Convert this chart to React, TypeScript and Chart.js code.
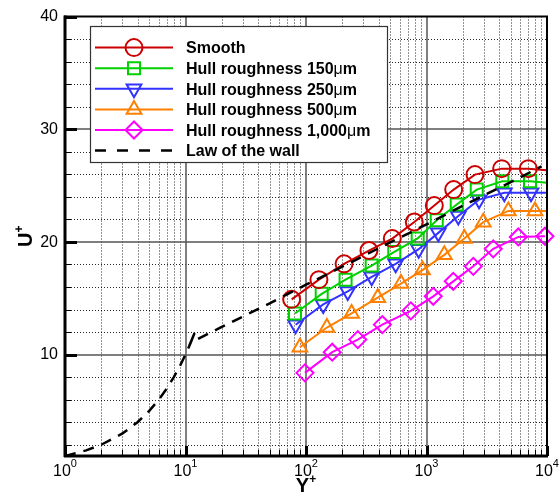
import React, { useEffect, useRef } from 'react';
import { Chart, registerables } from 'chart.js';

Chart.register(...registerables);

// ---------- axis / tick definitions ----------
const X_MIN = 1;
const X_MAX = 10000;
const Y_MIN = 1;
const Y_MAX = 40;
const xDecades = [1, 10, 100, 1000, 10000];
const xExponents = ['0', '1', '2', '3', '4'];
const xMinorFactors = [2, 3, 4, 5, 6, 7, 8, 9];
const yMajor = [10, 20, 30, 40];
const yMajorLabels = ['10', '20', '30', '40'];
const yMinor = [2, 4, 6, 8, 12, 14, 16, 18, 22, 24, 26, 28, 32, 34, 36, 38];

// ---------- series ----------
const seriesNames = [
  'Smooth',
  'Hull roughness 150',
  'Hull roughness 250',
  'Hull roughness 500',
  'Hull roughness 1,000',
];
const lawName = 'Law of the wall';

const smoothY = [76, 128, 207, 333, 520, 792, 1161, 1681, 2525, 4207, 6998, 10000];
const smoothU = [14.9, 16.65, 18.05, 19.23, 20.29, 21.76, 23.22, 24.64, 25.97, 26.5, 26.5, 26.35];

const r150Y = [81, 135, 213, 351, 540, 845, 1216, 1782, 2612, 4256, 7226, 10000];
const r150U = [13.64, 15.39, 16.65, 17.9, 19.11, 20.31, 21.92, 23.31, 24.64, 25.38, 25.38, 25.25];

const r250Y = [82, 139, 222, 351, 555, 861, 1253, 1836, 2730, 4424, 7365, 10000];
const r250U = [12.65, 14.45, 15.6, 16.9, 18.05, 19.35, 20.8, 22.3, 23.75, 24.35, 24.35, 24.35];

const r500Y = [89, 149, 239, 394, 614, 926, 1406, 2060, 2958, 4775, 7948, 10000];
const r500U = [10.65, 12.4, 13.65, 15.05, 16.3, 17.5, 18.85, 20.3, 21.75, 22.75, 22.75, 22.75];

const r1000Y = [98, 165, 269, 430, 741, 1138, 1667, 2445, 3581, 5783, 9620];
const r1000U = [8.38, 10.21, 11.33, 12.66, 13.88, 15.17, 16.5, 17.83, 19.38, 20.44, 20.5];

const lawY = [1, 1.5, 2, 3, 4, 5, 6, 7, 8, 9, 10, 11, 12, 11, 20, 50, 100, 200, 500, 1000, 2000, 5000, 9000];
const lawU = [1, 1.5, 2, 3, 4, 5, 6, 7, 8, 9, 10, 11, 12, 11.05, 12.45, 14.55, 16.2, 17.8, 19.95, 21.55, 23.2, 25.3, 26.7];

const seriesColors = ['#cc0000', '#00d000', '#3333ff', '#ff8000', '#ff00ff'];
const seriesStyles = ['circle', 'rect', 'triangle', 'triangle', 'rectRot'];
const seriesRotations = [0, 0, 180, 0, 0];

const FONT = '"Liberation Sans", Arial, Helvetica, sans-serif';

function toPoints(xs: number[], ys: number[]) {
  return xs.map((v, i) => ({ x: v, y: ys[i] }));
}

function drawMarker(ctx: CanvasRenderingContext2D, style: string, rot: number, x: number, y: number, r: number) {
  ctx.beginPath();
  if (style === 'circle') {
    ctx.arc(x, y, r, 0, Math.PI * 2);
  } else if (style === 'rect') {
    const s = r * Math.SQRT1_2;
    ctx.rect(x - s, y - s, 2 * s, 2 * s);
  } else if (style === 'rectRot') {
    ctx.moveTo(x, y - r);
    ctx.lineTo(x + r, y);
    ctx.lineTo(x, y + r);
    ctx.lineTo(x - r, y);
    ctx.closePath();
  } else if (style === 'triangle') {
    const a0 = (rot * Math.PI) / 180;
    for (let k = 0; k < 3; k++) {
      const a = a0 + (k * 2 * Math.PI) / 3;
      const px = x + Math.sin(a) * r;
      const py = y - Math.cos(a) * r;
      if (k === 0) ctx.moveTo(px, py);
      else ctx.lineTo(px, py);
    }
    ctx.closePath();
  }
  ctx.stroke();
}

const decorPlugin = {
  id: 'decor',
  beforeDatasetsDraw(chart: any) {
    const { ctx, chartArea: a, scales } = chart;
    const x = scales.x;
    const y = scales.y;
    ctx.save();
    // minor dotted grid
    ctx.strokeStyle = 'rgba(0,0,0,0.85)';
    ctx.lineWidth = 1;
    ctx.setLineDash([1, 2]);
    ctx.beginPath();
    for (const d of xDecades.slice(0, -1)) {
      for (const f of xMinorFactors) {
        const px = Math.round(x.getPixelForValue(d * f)) + 0.5;
        ctx.moveTo(px, a.top);
        ctx.lineTo(px, a.bottom);
      }
    }
    for (const v of yMinor) {
      const py = Math.round(y.getPixelForValue(v)) + 0.5;
      ctx.moveTo(a.left, py);
      ctx.lineTo(a.right, py);
    }
    ctx.stroke();
    // major solid grid
    ctx.setLineDash([]);
    ctx.strokeStyle = '#555';
    ctx.lineWidth = 1.5;
    ctx.beginPath();
    for (const d of xDecades.slice(1, -1)) {
      const px = Math.round(x.getPixelForValue(d));
      ctx.moveTo(px, a.top);
      ctx.lineTo(px, a.bottom);
    }
    for (const v of yMajor.slice(0, -1)) {
      const py = Math.round(y.getPixelForValue(v));
      ctx.moveTo(a.left, py);
      ctx.lineTo(a.right, py);
    }
    ctx.stroke();
    ctx.restore();
  },
  afterDatasetsDraw(chart: any) {
    const { ctx, chartArea: a, scales } = chart;
    const x = scales.x;
    const y = scales.y;
    ctx.save();
    ctx.setLineDash([]);
    ctx.strokeStyle = '#000';
    // frame
    ctx.lineWidth = 2;
    ctx.strokeRect(a.left, a.top, a.right - a.left, a.bottom - a.top);
    ctx.lineWidth = 3;
    ctx.beginPath();
    ctx.moveTo(a.left - 1, a.bottom);
    ctx.lineTo(a.right + 1, a.bottom);
    ctx.moveTo(a.left, a.top - 1);
    ctx.lineTo(a.left, a.bottom + 1);
    ctx.stroke();
    // major ticks
    ctx.lineWidth = 3;
    ctx.beginPath();
    for (const v of yMajor) {
      const py = Math.round(y.getPixelForValue(v)) + 0.5;
      ctx.moveTo(a.left, py);
      ctx.lineTo(a.left + 12, py);
    }
    for (const d of xDecades) {
      const px = Math.round(x.getPixelForValue(d)) + 0.5;
      ctx.moveTo(px, a.bottom);
      ctx.lineTo(px, a.bottom - 10);
    }
    ctx.stroke();
    // minor ticks
    ctx.lineWidth = 1;
    ctx.beginPath();
    for (const v of yMinor) {
      const py = Math.round(y.getPixelForValue(v)) + 0.5;
      ctx.moveTo(a.left, py);
      ctx.lineTo(a.left + 6, py);
    }
    for (const d of xDecades.slice(0, -1)) {
      for (const f of xMinorFactors) {
        const px = Math.round(x.getPixelForValue(d * f)) + 0.5;
        ctx.moveTo(px, a.bottom);
        ctx.lineTo(px, a.bottom - 6);
      }
    }
    ctx.stroke();

    // tick labels
    ctx.fillStyle = '#000';
    ctx.font = `16px ${FONT}`;
    ctx.textAlign = 'right';
    ctx.textBaseline = 'middle';
    yMajor.forEach((v, i) => {
      ctx.fillText(yMajorLabels[i], a.left - 7, y.getPixelForValue(v) + 0.5);
    });
    ctx.textBaseline = 'alphabetic';
    xDecades.forEach((d, i) => {
      const px = x.getPixelForValue(d);
      ctx.font = `16px ${FONT}`;
      const w1 = ctx.measureText('10').width;
      ctx.font = `11px ${FONT}`;
      const w2 = ctx.measureText(xExponents[i]).width;
      const left = px - (w1 + w2) / 2;
      ctx.textAlign = 'left';
      ctx.font = `16px ${FONT}`;
      ctx.fillText('10', left, a.bottom + 20);
      ctx.font = `11px ${FONT}`;
      ctx.fillText(xExponents[i], left + w1, a.bottom + 11);
    });

    // axis titles
    const cx = (a.left + a.right) / 2;
    ctx.font = `bold 20px ${FONT}`;
    const wy = ctx.measureText('Y').width;
    ctx.font = `bold 12px ${FONT}`;
    const wp = ctx.measureText('+').width;
    ctx.textAlign = 'left';
    ctx.font = `bold 20px ${FONT}`;
    ctx.fillText('Y', cx - (wy + wp) / 2, 492);
    ctx.font = `bold 12px ${FONT}`;
    ctx.fillText('+', cx - (wy + wp) / 2 + wy, 483);

    const cy = (a.top + a.bottom) / 2;
    ctx.save();
    ctx.translate(32, cy);
    ctx.rotate(-Math.PI / 2);
    ctx.font = `bold 20px ${FONT}`;
    const wu = ctx.measureText('U').width;
    ctx.fillText('U', -(wu + wp) / 2, 0);
    ctx.font = `bold 12px ${FONT}`;
    ctx.fillText('+', -(wu + wp) / 2 + wu, -9);
    ctx.restore();

    // legend
    const lx = 90.5, ly = 26.5, lw = 297, lh = 136;
    ctx.fillStyle = '#fff';
    ctx.fillRect(lx, ly, lw, lh);
    ctx.strokeStyle = '#333';
    ctx.lineWidth = 1.2;
    ctx.strokeRect(lx, ly, lw, lh);
    const rowY0 = 47.6;
    const rowH = 20.6;
    const items = [...seriesNames, lawName];
    items.forEach((name, i) => {
      const ry = rowY0 + i * rowH;
      ctx.save();
      if (i < seriesNames.length) {
        ctx.strokeStyle = seriesColors[i];
        ctx.lineWidth = 2;
        ctx.beginPath();
        ctx.moveTo(95, ry);
        ctx.lineTo(173, ry);
        ctx.stroke();
        drawMarker(ctx, seriesStyles[i], seriesRotations[i], 134, ry, 8.5);
      } else {
        ctx.strokeStyle = '#000';
        ctx.lineWidth = 2.5;
        ctx.setLineDash([11, 11]);
        ctx.beginPath();
        ctx.moveTo(95, ry);
        ctx.lineTo(173, ry);
        ctx.stroke();
      }
      ctx.restore();
      ctx.fillStyle = '#000';
      ctx.textAlign = 'left';
      ctx.textBaseline = 'alphabetic';
      ctx.font = `bold 16px ${FONT}`;
      ctx.fillText(name, 186, ry + 5.7);
      if (i > 0 && i < seriesNames.length) {
        let tx = 186 + ctx.measureText(name).width;
        ctx.font = `16px ${FONT}`;
        ctx.fillText('μ', tx, ry + 5.7);
        tx += ctx.measureText('μ').width;
        ctx.font = `bold 16px ${FONT}`;
        ctx.fillText('m', tx, ry + 5.7);
      }
    });
    ctx.restore();
  },
};

export default function App() {
  const ref = useRef<HTMLCanvasElement | null>(null);
  useEffect(() => {
    if (!ref.current) return;
    const xsList = [smoothY, r150Y, r250Y, r500Y, r1000Y];
    const ysList = [smoothU, r150U, r250U, r500U, r1000U];
    const seriesDatasets = seriesNames.map((name, i) => ({
      label: name,
      data: toPoints(xsList[i], ysList[i]),
      borderColor: seriesColors[i],
      backgroundColor: 'rgba(0,0,0,0)',
      borderWidth: 2,
      pointStyle: seriesStyles[i],
      pointRotation: seriesRotations[i],
      pointRadius: xsList[i].map((v, k) => (k === xsList[i].length - 1 && v === X_MAX ? 0 : 8.5)),
      pointBorderWidth: 2,
      pointBorderColor: seriesColors[i],
      pointBackgroundColor: 'rgba(0,0,0,0)',
      fill: false,
      tension: 0,
      clip: 12,
    }));
    const chart = new Chart(ref.current, {
      type: 'line',
      data: {
        datasets: [
          {
            label: lawName,
            data: toPoints(lawY, lawU),
            borderColor: '#000',
            borderWidth: 2.5,
            borderDash: [11, 8],
            pointRadius: 0,
            fill: false,
            tension: 0,
          },
          ...seriesDatasets,
        ] as any,
      },
      options: {
        responsive: false,
        animation: false,
        layout: { padding: { left: 65, right: 13, top: 16.5, bottom: 36 } },
        plugins: { legend: { display: false }, tooltip: { enabled: false } },
        scales: {
          x: { type: 'logarithmic', min: X_MIN, max: X_MAX, display: false },
          y: { type: 'linear', min: Y_MIN, max: Y_MAX, display: false },
        },
      },
      plugins: [decorPlugin],
    } as any);
    return () => chart.destroy();
  }, []);
  return (
    <div style={{ position: 'fixed', left: 0, top: 0, width: 560, height: 492, background: '#fff' }}>
      <canvas ref={ref} width={560} height={492} style={{ width: 560, height: 492, display: 'block' }} />
    </div>
  );
}
